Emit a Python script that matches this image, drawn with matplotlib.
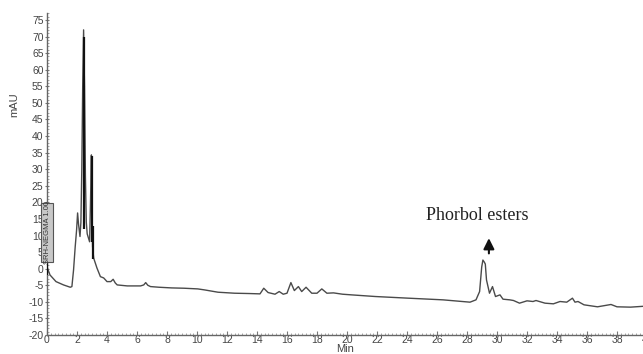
import matplotlib
matplotlib.use("Agg")
import matplotlib.pyplot as plt
from matplotlib.ticker import MultipleLocator
from matplotlib.patches import Rectangle

# ---- data ----
time_min = [0.0, 0.2, 0.6, 1.1, 1.55, 1.66, 1.77, 1.88, 1.97, 2.04, 2.1, 2.2, 2.26, 2.32, 2.38,
            2.44, 2.5, 2.56, 2.62, 2.68, 2.84, 2.9, 2.96, 3.0, 3.04, 3.11, 3.33, 3.56, 3.78,
            4.0, 4.25, 4.41, 4.55, 4.68, 5.35, 6.24, 6.45, 6.58, 6.72, 6.9, 7.47, 8.3, 9.15,
            10.05, 10.5, 11.4, 12.5, 13.5, 14.2, 14.45, 14.74, 15.2, 15.48, 15.75, 16.0, 16.26,
            16.49, 16.76, 16.98, 17.27, 17.65, 18.0, 18.32, 18.66, 19.1, 19.7, 20.3, 21.9,
            24.1, 26.4, 28.2, 28.6, 28.84, 28.98, 29.06, 29.15, 29.22, 29.3, 29.5, 29.7,
            29.9, 30.2, 30.4, 30.85, 31.1, 31.5, 32.0, 32.4, 32.6, 33.2, 33.76, 34.2, 34.65,
            35.03, 35.2, 35.4, 35.8, 36.7, 37.6, 38.0, 38.9, 39.9, 40.0]
mau = [0.5, -1.9, -3.9, -4.9, -5.6, -5.4, -0.4, 6.6, 11.5, 16.8, 13.5, 9.7, 14.0, 30.0, 55.0,
       72.0, 55.0, 28.0, 14.0, 10.5, 8.1, 20.0, 34.3, 15.0, 6.6, 3.2, 0.2, -2.4, -2.8,
       -3.9, -3.9, -3.2, -4.3, -4.9, -5.2, -5.2, -4.9, -4.2, -5.0, -5.4, -5.6, -5.8, -5.9,
       -6.1, -6.4, -7.1, -7.4, -7.5, -7.6, -5.9, -7.2, -7.7, -6.9, -7.7, -7.4, -4.2,
       -6.6, -5.4, -6.9, -5.6, -7.4, -7.4, -6.1, -7.4, -7.3, -7.7, -7.9, -8.4,
       -8.9, -9.4, -10.1, -9.4, -6.9, 0.5, 2.6, 2.0, 1.4, -3.4, -7.4, -5.4,
       -8.4, -7.9, -9.2, -9.4, -9.6, -10.4, -9.7, -9.9, -9.6, -10.4, -10.6, -9.9, -10.1,
       -8.9, -10.1, -9.9, -10.9, -11.5, -10.8, -11.5, -11.6, -11.3, -11.3]

# dark integration-marker segments on the trace
marker_t = [0.0, 2.44, 2.97, 3.04]
marker_lo = [-2.0, 12.0, 8.0, 3.0]
marker_hi = [3.0, 70.0, 34.0, 13.0]

yticks = list(range(-20, 80, 5))
xticks = list(range(0, 42, 2))
annot_text = "Phorbol esters"
annot_x, annot_y = 28.66, 15.9
arrow_x, arrow_tip, arrow_tail = 29.46, 9.2, 4.6
badge_text = "SRH-NEGMA 1.00"

W, H = 643, 354
fig = plt.figure(figsize=(W / 100, H / 100), dpi=100)
ax = fig.add_axes([47 / W, 19 / H, 600 / W, 321.7 / H])

ax.plot(time_min, mau, color="#4a4a4a", lw=1.0, zorder=3)
ax.vlines(marker_t, marker_lo, marker_hi, color="#111111", lw=1.6, zorder=4)

ax.set_xlim(0, 40)
ax.set_ylim(-20, 77)
ax.set_xticks(xticks)
ax.set_yticks(yticks)
ax.xaxis.set_minor_locator(MultipleLocator(0.25))
ax.yaxis.set_minor_locator(MultipleLocator(1))

for s in ["top", "right"]:
    ax.spines[s].set_visible(False)
for s in ["left", "bottom"]:
    ax.spines[s].set_color("#666666")
    ax.spines[s].set_linewidth(1.0)

lab_font = dict(family="Liberation Sans", size=7.5)
ax.set_xticklabels([str(v) for v in xticks], color="#444444", **lab_font)
ax.set_yticklabels([str(v) for v in yticks], color="#444444", **lab_font)
ax.tick_params(axis="x", which="major", direction="in", length=3, width=0.8,
               color="#777777", pad=0)
ax.tick_params(axis="y", which="major", direction="inout", length=3, width=0.8,
               color="#777777", pad=1)
ax.tick_params(which="minor", direction="in", length=1.5, width=0.6, color="#999999")

fig.text(14 / W, 1 - 105 / H, "mAU", rotation=90, ha="center", va="center",
         color="#444444", family="Liberation Sans", size=8)
fig.text(345 / W, 1 - 349 / H, "Min", ha="center", va="center",
         color="#444444", family="Liberation Sans", size=8)

ax.text(annot_x, annot_y, annot_text, ha="center", va="center",
        family="Liberation Serif", size=13, color="#222222")
ax.annotate("", xy=(arrow_x, arrow_tip), xytext=(arrow_x, arrow_tail),
            arrowprops=dict(arrowstyle="-|>", color="#111111", lw=1.5,
                            mutation_scale=16, shrinkA=0, shrinkB=0))

# channel badge over the y-axis labels
bx0, by0, bw, bh = 41 / W, 1 - 262 / H, 12 / W, 59 / H
fig.patches.append(Rectangle((bx0, by0), bw, bh, transform=fig.transFigure,
                             facecolor="#c8c8c8", edgecolor="#555555", lw=0.8,
                             zorder=10))
fig.text(bx0 + bw / 2, by0 + bh / 2, badge_text, rotation=90, ha="center",
         va="center", family="Liberation Sans", size=5.5, color="#333333",
         zorder=11)

fig.savefig("out.png", dpi=100, facecolor="white")
